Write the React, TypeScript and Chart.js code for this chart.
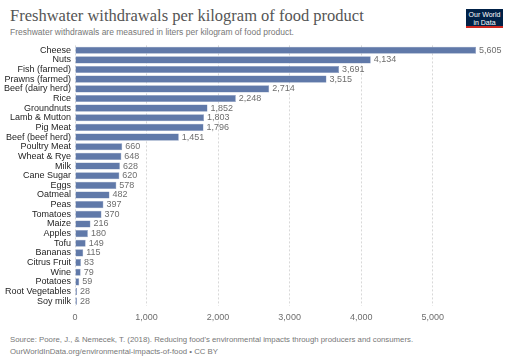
import React, { useEffect, useRef } from "react";
import { Chart, registerables } from "chart.js";

Chart.register(...registerables);

const categories = [
  "Cheese", "Nuts", "Fish (farmed)", "Prawns (farmed)", "Beef (dairy herd)", "Rice",
  "Groundnuts", "Lamb & Mutton", "Pig Meat", "Beef (beef herd)", "Poultry Meat",
  "Wheat & Rye", "Milk", "Cane Sugar", "Eggs", "Oatmeal", "Peas", "Tomatoes", "Maize",
  "Apples", "Tofu", "Bananas", "Citrus Fruit", "Wine", "Potatoes", "Root Vegetables", "Soy milk",
];
const values = [
  5605, 4134, 3691, 3515, 2714, 2248, 1852, 1803, 1796, 1451, 660, 648, 628, 620, 578,
  482, 397, 370, 216, 180, 149, 115, 83, 79, 59, 28, 28,
];
const xTicks = [0, 1000, 2000, 3000, 4000, 5000];

const FONT = "'Liberation Sans', Arial, sans-serif";

const valueLabels = {
  id: "valueLabels",
  afterDatasetsDraw(chart: any) {
    const ctx = chart.ctx;
    const meta = chart.getDatasetMeta(0);
    ctx.save();
    ctx.font = `9px ${FONT}`;
    ctx.fillStyle = "#6e6e6e";
    ctx.textAlign = "left";
    ctx.textBaseline = "middle";
    meta.data.forEach((bar: any, i: number) => {
      ctx.fillText(values[i].toLocaleString("en-US"), bar.x + 3, bar.y);
    });
    ctx.restore();
  },
};

export default function App() {
  const ref = useRef<HTMLCanvasElement>(null);
  useEffect(() => {
    if (!ref.current) return;
    const chart = new Chart(ref.current, {
      type: "bar",
      data: {
        labels: categories,
        datasets: [
          {
            data: values,
            backgroundColor: "#6079a9",
            borderColor: "#8597bd",
            borderWidth: 0.5,
            barPercentage: 0.74,
            categoryPercentage: 1,
          },
        ],
      },
      plugins: [valueLabels],
      options: {
        indexAxis: "y",
        animation: false,
        responsive: false,
        maintainAspectRatio: false,
        layout: { padding: { left: 0, right: 36, top: 5, bottom: 0 } },
        plugins: { legend: { display: false }, tooltip: { enabled: false }, title: { display: false } },
        scales: {
          x: {
            type: "linear",
            min: 0,
            max: 5605,
            afterBuildTicks: (scale: any) => {
              scale.ticks = xTicks.map((v) => ({ value: v }));
            },
            afterFit: (scale: any) => {
              scale.height = 20;
            },
            border: { display: false, dash: [2, 2] },
            grid: { color: "#d8d8d8", drawTicks: false, lineWidth: 1 },
            ticks: {
              padding: 6,
              color: "#6e6e6e",
              font: { family: FONT, size: 9 },
              callback: (v: any) => Number(v).toLocaleString("en-US"),
            },
          },
          y: {
            type: "category",
            afterFit: (scale: any) => {
              scale.width = 75;
            },
            border: { display: false },
            grid: { display: false, drawTicks: false },
            ticks: {
              padding: 4,
              autoSkip: false,
              color: "#1e1e1e",
              font: { family: FONT, size: 9 },
            },
          },
        },
      },
    } as any);
    return () => chart.destroy();
  }, []);

  return (
    <div style={{ position: "absolute", left: 0, top: 0, width: 512, height: 362, background: "#fff", fontFamily: FONT }}>
      <div style={{ position: "absolute", left: 10, top: 6, fontFamily: "'Liberation Serif', 'DejaVu Serif', serif", fontSize: 16.5, color: "#555", whiteSpace: "nowrap", lineHeight: "20px" }}>
        Freshwater withdrawals per kilogram of food product
      </div>
      <div style={{ position: "absolute", left: 10, top: 27, fontSize: 8.5, color: "#777", whiteSpace: "nowrap", lineHeight: "11px" }}>
        Freshwater withdrawals are measured in liters per kilogram of food product.
      </div>
      <div style={{ position: "absolute", left: 466, top: 9, width: 37, height: 19, background: "#002147", borderBottom: "2px solid #ce261e", color: "#fff", fontSize: 7, lineHeight: "8px", textAlign: "center", paddingTop: 1.5, boxSizing: "border-box" }}>
        Our World<br />in Data
      </div>
      <div style={{ position: "absolute", left: 0, top: 36, width: 512, height: 290 }}>
        <canvas ref={ref} width={512} height={290} style={{ width: 512, height: 290 }} />
      </div>
      <div style={{ position: "absolute", left: 10, top: 334, fontSize: 7.8, color: "#777", whiteSpace: "nowrap", lineHeight: "11.5px" }}>
        Source: Poore, J., &amp; Nemecek, T. (2018). Reducing food's environmental impacts through producers and consumers.
        <br />
        OurWorldInData.org/environmental-impacts-of-food • CC BY
      </div>
    </div>
  );
}
